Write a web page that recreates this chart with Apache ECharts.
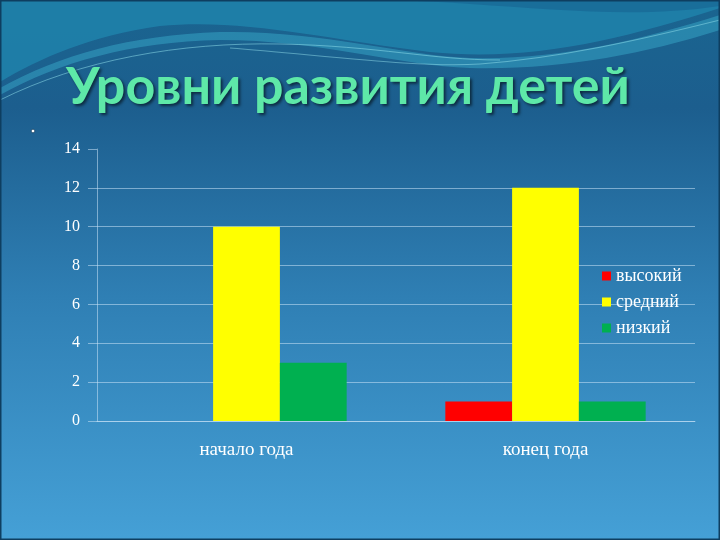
<!DOCTYPE html>
<html><head><meta charset="utf-8">
<script src="https://cdn.jsdelivr.net/npm/echarts@6/dist/echarts.min.js"></script>
<style>html,body{margin:0;padding:0;}#c{width:720px;height:540px;}</style>
</head><body><div id="c"></div>
<script>
const categories = ['начало года', 'конец года'];
const seriesNames = ['высокий', 'средний', 'низкий'];
const vHigh = [0, 1];
const vMid = [10, 12];
const vLow = [3, 1];
const colors = ['#ff0000', '#ffff00', '#00b050'];

const waveSvg = '<svg xmlns="http://www.w3.org/2000/svg" width="720" height="540">' +
  '<path d="M0 0 L720 0 L720 8 C620 40 530 62 430 52 C320 38 240 18 160 26 C90 36 40 58 0 82 Z" fill="rgba(32,135,175,0.75)"/>' +
  '<path d="M0 0 L720 0 L720 6 C640 18 560 10 470 4 C420 0 380 0 330 0 Z" fill="rgba(20,90,140,0.45)"/>' +
  '<path d="M0 88 C60 55 130 35 220 32 C320 30 400 55 470 58 C560 60 640 40 720 15 L720 30 C640 55 560 70 470 68 C400 66 320 40 220 40 C130 42 60 62 0 95 Z" fill="rgba(70,200,225,0.35)"/>' +
  '<path d="M0 100 C80 60 180 42 280 44 C380 46 430 60 500 60" fill="none" stroke="rgba(150,230,240,0.5)" stroke-width="1"/>' +
  '<path d="M230 48 C330 56 420 68 480 64 C560 58 640 40 720 20" fill="none" stroke="rgba(160,235,245,0.45)" stroke-width="1.2"/>' +
  '<rect x="0.75" y="0.75" width="718.5" height="538.5" fill="none" stroke="#0e3e60" stroke-width="1.5"/>' +
  '</svg>';

const chart = echarts.init(document.getElementById('c'));
const serif = 'Liberation Serif, DejaVu Serif, serif';
const gridCol = 'rgba(200,225,245,0.55)';
const splitCols = [gridCol, gridCol, gridCol, gridCol, gridCol, gridCol, gridCol, 'rgba(0,0,0,0)'];
chart.setOption({
  backgroundColor: {
    type: 'linear', x: 0, y: 0, x2: 0, y2: 1,
    colorStops: [
      {offset: 0, color: '#1a6590'},
      {offset: 0.2, color: '#1c5e8e'},
      {offset: 0.55, color: '#2f7fb4'},
      {offset: 1, color: '#45a0d6'}
    ]
  },
  graphic: [
    {type: 'image', silent: true, z: -10, left: 0, top: 0,
      style: {image: 'data:image/svg+xml;charset=utf-8,' + encodeURIComponent(waveSvg), width: 720, height: 540}},
    {type: 'circle', silent: true, shape: {cx: 33, cy: 131, r: 1.8}, style: {fill: '#ffffff', stroke: 'rgba(10,50,80,0.6)', lineWidth: 1}}
  ],
  title: {
    text: 'Уровни развития детей',
    left: 61, top: 56,
    textStyle: {
      color: '#5ee8a8', fontSize: 52, fontWeight: 'bold', fontFamily: 'Lato, Open Sans, sans-serif',
      textShadowColor: 'rgba(0,0,0,0.55)', textShadowBlur: 3, textShadowOffsetX: 2, textShadowOffsetY: 2
    }
  },
  legend: {
    orient: 'vertical', left: 597, top: 262,
    itemWidth: 9, itemHeight: 9, itemGap: 8,
    icon: 'rect',
    data: seriesNames,
    textStyle: {color: '#ffffff', fontSize: 18, fontFamily: serif}
  },
  grid: {left: 97, right: 25, top: 149, bottom: 119, containLabel: false},
  xAxis: {
    type: 'category', data: categories,
    axisLine: {show: true, lineStyle: {color: gridCol, width: 1}},
    axisTick: {show: false},
    axisLabel: {color: '#ffffff', fontSize: 19, fontFamily: serif, margin: 20}
  },
  yAxis: {
    type: 'value', min: 0, max: 14, interval: 2,
    axisLine: {show: true, lineStyle: {color: gridCol, width: 1}},
    axisTick: {show: true, length: 9, lineStyle: {color: gridCol}},
    splitLine: {show: true, lineStyle: {color: splitCols, width: 1}},
    axisLabel: {color: '#ffffff', fontSize: 16, fontFamily: serif, margin: 17}
  },
  series: [
    {name: seriesNames[0], type: 'bar', data: vHigh, itemStyle: {color: colors[0]}, barGap: '0%', barCategoryGap: '33%'},
    {name: seriesNames[1], type: 'bar', data: vMid, itemStyle: {color: colors[1]}, barGap: '0%', barCategoryGap: '33%'},
    {name: seriesNames[2], type: 'bar', data: vLow, itemStyle: {color: colors[2]}, barGap: '0%', barCategoryGap: '33%'}
  ]
});
</script></body></html>
